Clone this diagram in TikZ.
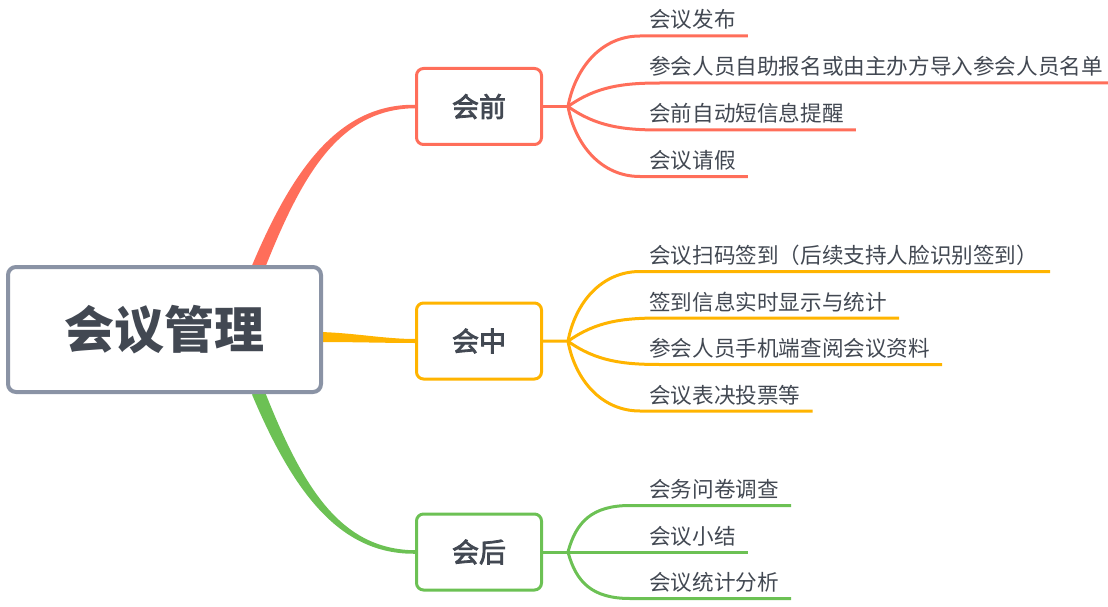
\documentclass[tikz,border=0pt]{standalone}
\usepackage{fontspec}
\newfontfamily\cjk{Noto Sans CJK SC}
\newfontfamily\cjkmed[FakeBold=3]{Noto Sans CJK SC}
\usetikzlibrary{calc,backgrounds}
\definecolor{cred}{RGB}{255,110,90}
\definecolor{corg}{RGB}{255,180,0}
\definecolor{cgrn}{RGB}{108,193,84}
\definecolor{cgray}{RGB}{138,147,165}
\definecolor{ctext}{RGB}{66,72,82}
\begin{document}
\begin{tikzpicture}[x=1pt,y=-1pt,
 rootbox/.style={draw=cgray,line width=4pt,fill=white,rounded corners=8pt,minimum width=313pt,minimum height=125pt,inner sep=0pt,text=ctext,font=\cjk\bfseries\fontsize{50}{60}\selectfont},
 topic/.style={draw=#1,line width=3pt,fill=white,rounded corners=7pt,minimum width=125pt,minimum height=76pt,inner sep=0pt,text=ctext,font=\cjkmed\fontsize{27}{32}\selectfont},
 leaf/.style={anchor=base west,inner sep=0pt,text=ctext,font=\cjk\fontsize{21.6}{26}\selectfont},
 link/.style={draw=#1,line width=3pt},
]
\useasboundingbox (0,0) rectangle (1108,607);

% main nodes
\node[rootbox] (root) at (164.5,329.5) {会议管理};
\node[topic=cred] (pre) at (479,106.5) {会前};
\node[topic=corg] (mid) at (479,341) {会中};
\node[topic=cgrn] (post) at (479,552) {会后};

% junctions
\coordinate (j1) at (568,106.5);
\coordinate (j2) at (568,341.25);
\coordinate (j3) at (568,552);

% leaves
\node[leaf] (a1) at (649,28) {会议发布};
\node[leaf] (a2) at (649,75) {参会人员自助报名或由主办方导入参会人员名单};
\node[leaf] (a3) at (649,122) {会前自动短信息提醒};
\node[leaf] (a4) at (649,168.5) {会议请假};

\node[leaf] (b1) at (649,263.5) {会议扫码签到（后续支持人脸识别签到）};
\node[leaf] (b2) at (649,310) {签到信息实时显示与统计};
\node[leaf] (b3) at (649,356.5) {参会人员手机端查阅会议资料};
\node[leaf] (b4) at (649,403) {会议表决投票等};

\node[leaf] (c1) at (649,497.5) {会务问卷调查};
\node[leaf] (c2) at (649,544) {会议小结};
\node[leaf] (c3) at (649,590.5) {会议统计分析};

\begin{pgfonlayer}{background}
% tapered main connectors
\fill[cred] ($(root.north)+(99.5,5.5)$) .. controls (302.5,173) and (340,109) .. ($(pre.west)+(0,1.75)$)
  -- ($(pre.west)+(0,-1.75)$) .. controls (340,104) and (293.5,167) .. ($(root.north)+(87.5,0.5)$) -- cycle;
\fill[corg] ($(root.east)+(-3,2.5)$) .. controls (355,333) and (385,339) .. ($(mid.west)+(0,-2)$)
  -- ($(mid.west)+(0,2)$) .. controls (385,343) and (355,342) .. ($(root.east)+(-3,12.5)$) -- cycle;
\fill[cgrn] ($(root.south)+(99.5,-4.5)$) .. controls (302.5,487) and (340,549.5) .. ($(post.west)+(0,-1.75)$)
  -- ($(post.west)+(0,1.75)$) .. controls (340,554.5) and (293.5,493) .. ($(root.south)+(87.5,0.5)$) -- cycle;

% branch 1
\draw[link=cred] (pre.east) -- (j1);
\draw[link=cred] (j1) .. controls +(7,-38) and +(-39,0) .. ($(a1.base west)+(-9,8)$) -- ($(a1.base east)+(12,8)$);
\draw[link=cred] (j1) .. controls +(28,-20) and +(-37,0) .. ($(a2.base west)+(11,8)$) -- ($(a2.base east)+(12,8)$);
\draw[link=cred] (j1) .. controls +(28,20) and +(-37,0) .. ($(a3.base west)+(11,8)$) -- ($(a3.base east)+(12,8)$);
\draw[link=cred] (j1) .. controls +(7,38) and +(-39,0) .. ($(a4.base west)+(-9,8)$) -- ($(a4.base east)+(12,8)$);

% branch 2
\draw[link=corg] (mid.east) -- (j2);
\draw[link=corg] (j2) .. controls +(7,-38) and +(-39,0) .. ($(b1.base west)+(-9,8)$) -- ($(b1.base east)+(12,8)$);
\draw[link=corg] (j2) .. controls +(28,-20) and +(-37,0) .. ($(b2.base west)+(11,8)$) -- ($(b2.base east)+(12,8)$);
\draw[link=corg] (j2) .. controls +(28,20) and +(-37,0) .. ($(b3.base west)+(11,8)$) -- ($(b3.base east)+(12,8)$);
\draw[link=corg] (j2) .. controls +(7,38) and +(-39,0) .. ($(b4.base west)+(-9,8)$) -- ($(b4.base east)+(12,8)$);

% branch 3
\draw[link=cgrn] (post.east) -- (j3);
\draw[link=cgrn] (j3) .. controls +(8,-30) and +(-38,0) .. ($(c1.base west)+(-19,8)$) -- ($(c1.base east)+(12,8)$);
\draw[link=cgrn] (j3) -- ($(c2.base east)+(12,8)$);
\draw[link=cgrn] (j3) .. controls +(8,30) and +(-38,0) .. ($(c3.base west)+(-19,8)$) -- ($(c3.base east)+(12,8)$);
\end{pgfonlayer}
\end{tikzpicture}
\end{document}
